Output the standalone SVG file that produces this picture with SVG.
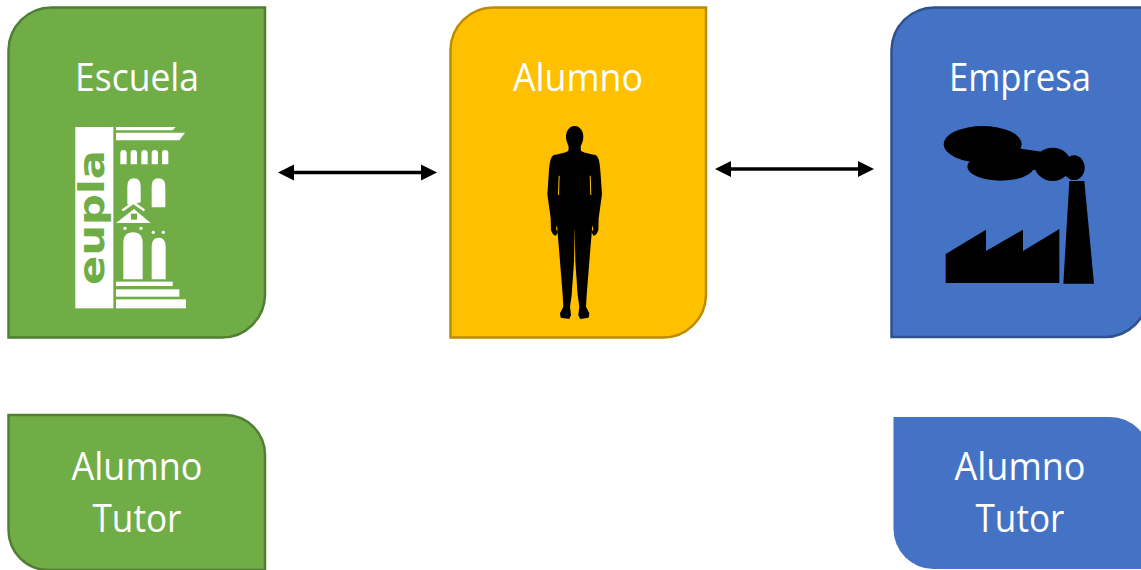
<svg xmlns="http://www.w3.org/2000/svg" xmlns:xlink="http://www.w3.org/1999/xlink" width="1141" height="570" viewBox="0 0 1141 570">
<style>
.t{font-family:"Open Sans","Noto Sans","Liberation Sans",sans-serif;font-size:39px;fill:#fff;text-anchor:middle}
.g{fill:#70AD47;stroke:#507E32;stroke-width:2.5}
.y{fill:#FFC000;stroke:#BC8C00;stroke-width:2.5}
.b{fill:#4472C4;stroke:#2F528F;stroke-width:2.5}
.w{fill:#fff}
.k{fill:#000}
.c{stroke:#000;stroke-width:3.5;fill:none;marker-start:url(#ah);marker-end:url(#ah)}
</style>
<defs>
<marker id="ah" markerUnits="userSpaceOnUse" markerWidth="17" markerHeight="17" refX="0" refY="8.5" orient="auto-start-reverse"><path d="M0,0.5 L16,8.5 L0,16.5 Z" fill="#000"/></marker>
<path id="halfman" fill-rule="evenodd" d="M133,33 H134 C150,33 160,48 160,65 C160,80 153,88 152,96 L153,108 C165,115 185,117 198,121 C208,128 210,150 212,180 L216,238 L206,310 L205,345 Q200,362 190,362 L185,352 L190,342 L187,330 L186,345 L182,390 L176,465 L170,540 L168,575 L178,595 L176,608 L150,612 L145,600 L148,575 L143,540 L136,440 L134,345 H133 Z M179,182 L182,182 L184,240 L181,240 Z"/>
</defs>
<g id="connectors">
<line class="c" x1="294" y1="172.5" x2="421" y2="172.5"/>
<line class="c" x1="731" y1="169" x2="858" y2="169"/>
</g>
<g id="escuela">
<path class="g" d="M51.5,7.5 H265 V295 A43,43 0 0 1 222,337.5 H8.5 V50 A43,43 0 0 1 51.5,7.5 Z"/>
<text class="t" x="137" y="91" textLength="124" lengthAdjust="spacingAndGlyphs">Escuela</text>
<g transform="translate(60,115) scale(.33333)">
<rect class="w" x="46" y="36" width="114" height="544"/>
<path class="w" d="M168,36 H347 L338,46 H168 Z M168,53 H375 L358,76 H168 Z"/>
<path class="w" d="M181,148 V115 Q181,105 190,105 Q200,105 200,115 V148 Z M212,148 V115 Q212,105 221,105 Q231,105 231,115 V148 Z M244,148 V115 Q244,105 253,105 Q263,105 263,115 V148 Z M275,148 V115 Q275,105 284,105 Q294,105 294,115 V148 Z M306,148 V115 Q306,105 315,105 Q325,105 325,115 V148 Z"/>
<path class="w" d="M202,272 V215 Q202,190 222,190 Q242,190 242,215 V262 Z M275,277 V215 Q275,190 295,190 Q316,190 316,215 V277 Z"/>
<path d="M195,268 L245,268 L245,300 L195,300 Z" fill="#70AD47"/>
<path class="w" d="M168,324 L222,282 L272,324 Z"/>
<path d="M213,296 H231 V314 H213 Z" fill="#70AD47"/>
<path fill="#fff" d="M184,284 L220,258 L256,284 L250,289 L220,268 L190,289 Z"/>
<circle class="w" cx="195" cy="340" r="5"/><circle class="w" cx="243" cy="340" r="5"/><circle class="w" cx="280" cy="352" r="5"/><circle class="w" cx="310" cy="352" r="5"/>
<path class="w" d="M190,493 V385 Q190,352 219,352 Q248,352 248,385 V493 Z M275,493 V395 Q275,368 296,368 Q317,368 317,395 V493 Z"/>
<rect class="w" x="168" y="500" width="170" height="13"/>
<rect class="w" x="168" y="523" width="190" height="22"/>
<rect class="w" x="168" y="553" width="210" height="27"/>
<text transform="translate(132,510) rotate(-90)" x="0" y="0" font-family="'DejaVu Sans',sans-serif" font-weight="700" font-size="108" fill="#70AD47" textLength="405" lengthAdjust="spacingAndGlyphs">eupla</text>
</g>
</g>
<g id="alumno">
<path class="y" d="M493.5,7.5 H706 V295 A43,43 0 0 1 663,337.5 H450.5 V50 A43,43 0 0 1 493.5,7.5 Z"/>
<text class="t" x="578" y="91" textLength="130" lengthAdjust="spacingAndGlyphs">Alumno</text>
<g transform="translate(530,115) scale(.33333)" class="k">
<use href="#halfman"/>
<use href="#halfman" transform="translate(268,0) scale(-1,1)"/>
</g>
</g>
<g id="empresa">
<path class="b" d="M891.5,50 A43,43 0 0 1 934.5,7.5 H1148 V295 A43,43 0 0 1 1105,337 H891.5 Z"/>
<text class="t" x="1020" y="91" textLength="142" lengthAdjust="spacingAndGlyphs">Empresa</text>
<g transform="translate(930,115) scale(.33333)" class="k">
<ellipse cx="158" cy="88" rx="117" ry="55"/>
<ellipse cx="212" cy="155" rx="100" ry="42"/>
<ellipse cx="368" cy="148" rx="55" ry="50"/>
<ellipse cx="432" cy="158" rx="32" ry="37"/>
<path d="M250,98 L335,110 L315,165 L250,170 Z"/>
<path d="M418,198 H463 L492,506 H400 Z"/>
<path d="M47,417 L168,344 V408 L279,344 V408 L388,342 V504 H47 Z"/>
</g>
</g>
<g id="alumno-tutor-escuela">
<path class="g" d="M8.5,415 H225 A40,40 0 0 1 265,455 V570 H48.5 A40,40 0 0 1 8.5,530 Z"/>
<text class="t" x="137" y="480" textLength="131" lengthAdjust="spacingAndGlyphs">Alumno</text>
<text class="t" x="137" y="532" textLength="89" lengthAdjust="spacingAndGlyphs">Tutor</text>
</g>
<g id="alumno-tutor-empresa">
<path fill="#4472C4" d="M893.5,417 H1110 A40,40 0 0 1 1150,457 V569 H933.5 A40,40 0 0 1 893.5,529 Z"/>
<text class="t" x="1020" y="480" textLength="131" lengthAdjust="spacingAndGlyphs">Alumno</text>
<text class="t" x="1020" y="532" textLength="89" lengthAdjust="spacingAndGlyphs">Tutor</text>
</g>
</svg>
